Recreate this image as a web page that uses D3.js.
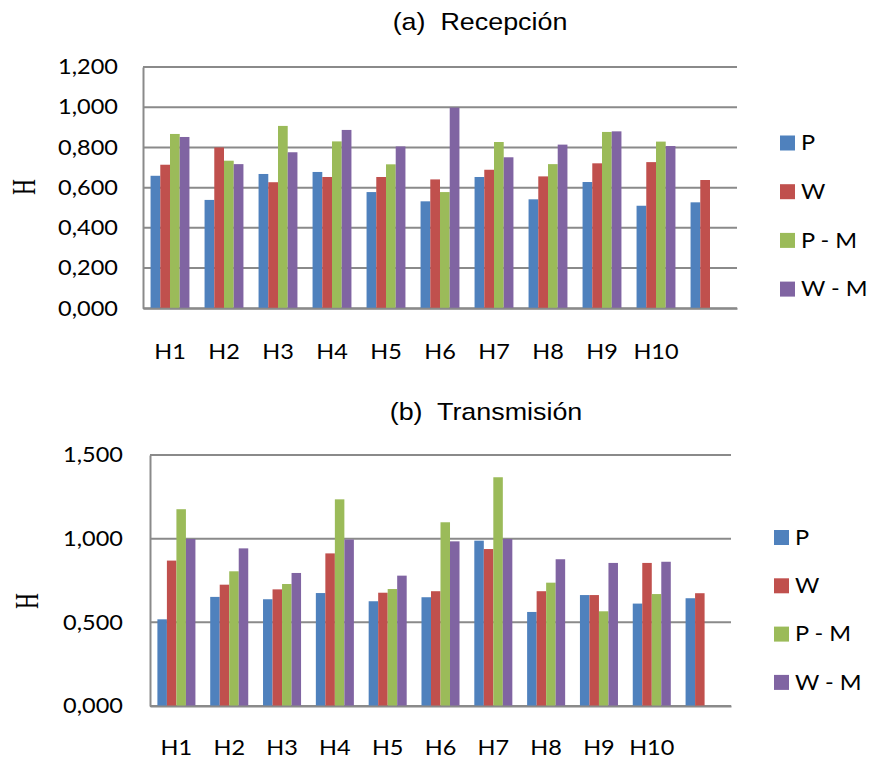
<!DOCTYPE html>
<html><head><meta charset="utf-8">
<script src="https://cdn.jsdelivr.net/npm/d3@7"></script>
<style>body{margin:0;background:#fff}</style>
</head><body>
<script>
// ---- data ----
const categories = ["H1","H2","H3","H4","H5","H6","H7","H8","H9","H10",""];
const seriesNames = ["P","W","P - M","W - M"];
const seriesColors = ["#4F81BD","#C0504D","#9BBB59","#8064A2"];

const recepcionP  = [0.659,0.539,0.668,0.678,0.578,0.532,0.653,0.542,0.628,0.510,0.527];
const recepcionW  = [0.714,0.800,0.627,0.653,0.653,0.641,0.689,0.656,0.721,0.727,0.638];
const recepcionPM = [0.867,0.734,0.907,0.830,0.716,0.578,0.827,0.717,0.877,0.829,null];
const recepcionWM = [0.852,0.717,0.776,0.887,0.805,0.998,0.751,0.814,0.880,0.807,null];
const recepcionTicks = [0,0.2,0.4,0.6,0.8,1.0,1.2];

const transmisionP  = [0.518,0.652,0.638,0.675,0.626,0.650,0.988,0.562,0.663,0.612,0.644];
const transmisionW  = [0.869,0.725,0.697,0.912,0.677,0.686,0.938,0.686,0.663,0.855,0.674];
const transmisionPM = [1.176,0.805,0.729,1.235,0.699,1.098,1.367,0.737,0.566,0.669,null];
const transmisionWM = [0.998,0.942,0.795,0.995,0.779,0.984,0.998,0.877,0.855,0.862,null];
const transmisionTicks = [0,0.5,1.0,1.5];

const yAxisTitle = "H";
// ---------------

const W = 871, H = 762;
const svg = d3.select("body").append("svg").attr("width", W).attr("height", H)
  .style("font-family", "Lato, 'Open Sans', sans-serif");

const fmt = v => d3.format(".3f")(v).replace(".", ",");
const SX = 1.12; // horizontal stretch of text
const gridColor = "#8a8a8a";

function stretchedText(g, x, y, txt, size, anchor) {
  return g.append("text")
    .attr("transform", `translate(${x},${y}) scale(${SX},1)`)
    .attr("text-anchor", anchor || "start")
    .attr("dy", "0.35em")
    .style("font-size", size + "px")
    .attr("fill", "#000")
    .text(txt);
}

function panel(cfg) {
  const g = svg.append("g");
  const series = cfg.series;
  const x = d3.scaleBand().domain(categories).range([cfg.x0, cfg.x1])
    .paddingInner(0.28).paddingOuter(0.14);
  const xs = d3.scaleBand().domain(seriesNames).range([0, x.bandwidth()]);
  const y = d3.scaleLinear().domain([0, cfg.max]).range([cfg.yBase, cfg.yTop]);

  // gridlines
  g.selectAll("line.grid").data(cfg.ticks).join("line")
    .attr("x1", cfg.x0).attr("x2", cfg.x1)
    .attr("y1", d => y(d)).attr("y2", d => y(d))
    .attr("stroke", gridColor).attr("stroke-width", 2);

  // bars
  seriesNames.forEach((s, si) => {
    const vals = series[si];
    g.append("g").selectAll("rect")
      .data(categories.map((c, i) => ({c, v: vals[i]})).filter(d => d.v != null))
      .join("rect")
      .attr("x", d => x(d.c) + xs(s))
      .attr("width", xs.bandwidth())
      .attr("y", d => y(d.v))
      .attr("height", d => y(0) - y(d.v))
      .attr("fill", seriesColors[si]);
  });

  // left axis
  const yAxis = d3.axisLeft(y).tickValues(cfg.ticks).tickFormat(fmt).tickSize(0).tickPadding(0);
  const ya = g.append("g").attr("transform", `translate(${cfg.x0},0)`).call(yAxis);
  ya.select(".domain").attr("stroke", gridColor).attr("stroke-width", 2);
  ya.selectAll(".tick text")
    .attr("x", null)
    .attr("transform", `translate(${-cfg.labelGap},0) scale(${SX},1)`)
    .style("font-size", "21px").style("font-family", "Lato, sans-serif").attr("fill", "#000");

  // bottom axis
  const xAxis = d3.axisBottom(x).tickSize(0).tickPadding(0);
  const xa = g.append("g").attr("transform", `translate(0,${cfg.yBase})`).call(xAxis);
  xa.select(".domain").attr("stroke", gridColor).attr("stroke-width", 2);
  xa.selectAll(".tick text")
    .attr("y", null).attr("dy", "0.35em")
    .attr("transform", `translate(0,${cfg.xLabelY - cfg.yBase}) scale(${SX},1)`)
    .style("font-size", "21px").style("font-family", "Lato, sans-serif").attr("fill", "#000");

  // title
  g.append("text")
    .attr("transform", `translate(${cfg.titleX},${cfg.titleY}) scale(1.12,1)`)
    .attr("text-anchor", "middle").attr("dy", "0.35em")
    .style("font-family", "'Liberation Sans', Arial, sans-serif")
    .style("font-size", "24px").style("white-space", "pre")
    .text(cfg.title);

  // y axis title
  g.append("text")
    .attr("transform", `translate(${cfg.hX},${cfg.hY}) rotate(-90) scale(1,1.5)`)
    .attr("text-anchor", "middle").attr("dy", "0.35em")
    .style("font-family", "'Liberation Serif', serif")
    .style("font-size", "22px")
    .text(yAxisTitle);

  // legend
  seriesNames.forEach((s, si) => {
    const cy = cfg.legY + si * cfg.legStep;
    g.append("rect").attr("x", cfg.legX).attr("y", cy - 7.5)
      .attr("width", 15).attr("height", 15).attr("fill", seriesColors[si]);
    stretchedText(g, cfg.legX + 21, cy, s, 21).style("white-space", "pre");
  });
}

panel({
  title: "(a)  Recepción", titleX: 480, titleY: 22,
  x0: 143, x1: 737, yBase: 308.3, yTop: 67, max: 1.2, ticks: recepcionTicks,
  series: [recepcionP, recepcionW, recepcionPM, recepcionWM],
  labelGap: 25, xLabelY: 352, hX: 23, hY: 187,
  legX: 780, legY: 143, legStep: 48.7
});
panel({
  title: "(b)  Transmisión", titleX: 486, titleY: 412,
  x0: 150, x1: 731, yBase: 706, yTop: 455, max: 1.5, ticks: transmisionTicks,
  series: [transmisionP, transmisionW, transmisionPM, transmisionWM],
  labelGap: 27, xLabelY: 748, hX: 26, hY: 601,
  legX: 774, legY: 537.5, legStep: 48.3
});
</script>
</body></html>
